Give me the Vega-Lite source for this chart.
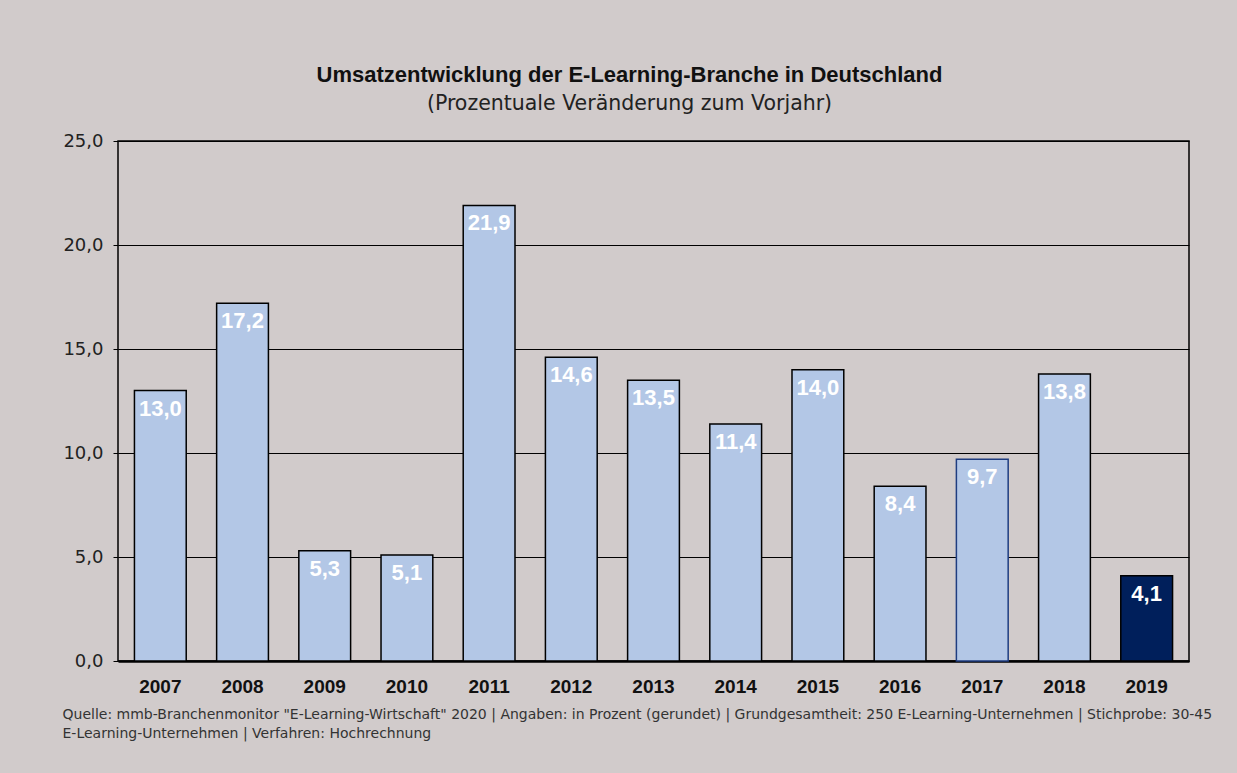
{
  "$schema": "https://vega.github.io/schema/vega-lite/v6.json",
  "width": 1071,
  "height": 520,
  "autosize": {"type": "none"},
  "padding": {"left": 118, "top": 141, "right": 48, "bottom": 112},
  "background": "#d1cbcb",
  "config": {
    "locale": {"number": {"decimal": ",", "thousands": ".", "grouping": [3], "currency": ["", " €"]}},
    "view": {"stroke": "#000000", "strokeWidth": 1.5},
    "font": "Liberation Sans"
  },
  "title": {
    "text": "Umsatzentwicklung der E-Learning-Branche in Deutschland",
    "subtitle": "(Prozentuale Veränderung zum Vorjahr)",
    "anchor": "middle",
    "dx": -24,
    "offset": 17,
    "font": "Liberation Sans",
    "fontSize": 22,
    "fontWeight": "bold",
    "color": "#111111",
    "subtitleFont": "DejaVu Sans",
    "subtitleFontSize": 20.5,
    "subtitleColor": "#222222",
    "subtitlePadding": 7
  },
  "data": {
    "values": [
      {"Jahr": "2007", "Veraenderung": 13.0, "Art": "Ist"},
      {"Jahr": "2008", "Veraenderung": 17.2, "Art": "Ist"},
      {"Jahr": "2009", "Veraenderung": 5.3, "Art": "Ist"},
      {"Jahr": "2010", "Veraenderung": 5.1, "Art": "Ist"},
      {"Jahr": "2011", "Veraenderung": 21.9, "Art": "Ist"},
      {"Jahr": "2012", "Veraenderung": 14.6, "Art": "Ist"},
      {"Jahr": "2013", "Veraenderung": 13.5, "Art": "Ist"},
      {"Jahr": "2014", "Veraenderung": 11.4, "Art": "Ist"},
      {"Jahr": "2015", "Veraenderung": 14.0, "Art": "Ist"},
      {"Jahr": "2016", "Veraenderung": 8.4, "Art": "Ist"},
      {"Jahr": "2017", "Veraenderung": 9.7, "Art": "Ist"},
      {"Jahr": "2018", "Veraenderung": 13.8, "Art": "Ist"},
      {"Jahr": "2019", "Veraenderung": 4.1, "Art": "Prognose"}
    ]
  },
  "encoding": {
    "x": {
      "field": "Jahr",
      "type": "ordinal",
      "scale": {"paddingInner": 0.37, "paddingOuter": 0.2},
      "axis": {
        "labelAngle": 0,
        "labelFont": "Liberation Sans",
        "labelFontSize": 19,
        "labelFontWeight": "bold",
        "labelColor": "#111111",
        "labelPadding": 16,
        "ticks": false,
        "domainColor": "#000000",
        "domainWidth": 2.5,
        "title": [
          "Quelle: mmb-Branchenmonitor \"E-Learning-Wirtschaft\" 2020 | Angaben: in Prozent (gerundet) | Grundgesamtheit: 250 E-Learning-Unternehmen | Stichprobe: 30-45",
          "E-Learning-Unternehmen | Verfahren: Hochrechnung"
        ],
        "titleFont": "DejaVu Sans",
        "titleFontSize": 14,
        "titleFontWeight": "normal",
        "titleColor": "#333333",
        "titleAlign": "left",
        "titleAnchor": "start",
        "titleBaseline": "alphabetic",
        "titleLineHeight": 19,
        "titleX": -56,
        "titleY": 57
      }
    },
    "y": {
      "field": "Veraenderung",
      "type": "quantitative",
      "scale": {"domain": [0, 25]},
      "axis": {
        "values": [0, 5, 10, 15, 20, 25],
        "format": ".1f",
        "title": null,
        "domain": false,
        "grid": true,
        "gridColor": "#000000",
        "gridWidth": 1,
        "gridOpacity": 1,
        "tickColor": "#000000",
        "tickSize": 5,
        "labelPadding": 10,
        "labelFont": "DejaVu Sans",
        "labelFontSize": 18,
        "labelColor": "#222222"
      }
    }
  },
  "layer": [
    {
      "mark": {"type": "bar", "strokeWidth": 1.5},
      "encoding": {
        "color": {
          "field": "Art",
          "type": "nominal",
          "scale": {"domain": ["Ist", "Prognose"], "range": ["#b3c7e6", "#001f5b"]},
          "legend": null
        },
        "stroke": {
          "condition": {"test": "datum.Jahr === '2017'", "value": "#1f3d80"},
          "value": "#000000"
        }
      }
    },
    {
      "mark": {
        "type": "text",
        "baseline": "top",
        "dy": 8,
        "font": "Liberation Sans",
        "fontSize": 22,
        "fontWeight": "bold",
        "color": "#ffffff"
      },
      "encoding": {
        "text": {"field": "Veraenderung", "type": "quantitative", "format": ".1f"}
      }
    }
  ]
}
